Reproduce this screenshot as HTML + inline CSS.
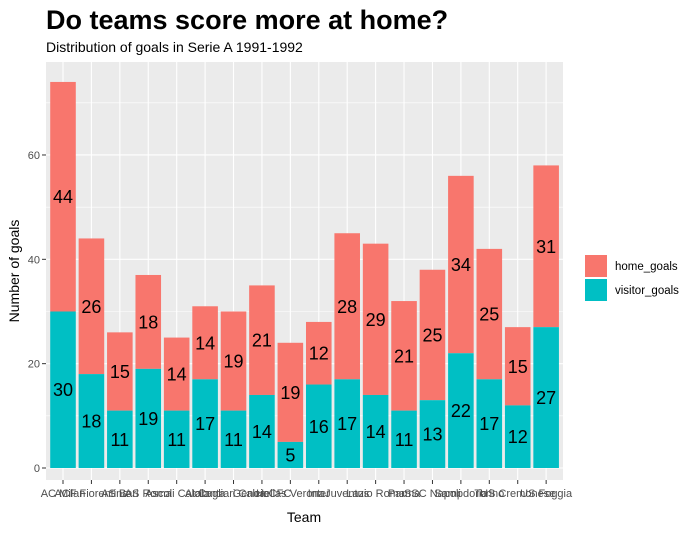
<!DOCTYPE html>
<html><head><meta charset="utf-8"><style>
body{margin:0;background:#fff;font-family:"Liberation Sans",Arial,sans-serif}
svg text{font-family:"Liberation Sans",Arial,sans-serif}
</style></head><body>
<svg id="chart" width="700" height="532" xmlns="http://www.w3.org/2000/svg">
<text x="46" y="29" font-size="27" font-weight="bold" fill="#000">Do teams score more at home?</text>
<text x="46" y="52" font-size="14" fill="#000">Distribution of goals in Serie A 1991-1992</text>
<rect x="46" y="62" width="517" height="418" fill="#EBEBEB"/>
<g id="grid"></g>
<g id="bars"></g>
<g id="labels"></g>
<g id="axes"></g>
<text x="304" y="522" font-size="14" text-anchor="middle" fill="#000">Team</text>
<text transform="translate(19,271) rotate(-90)" font-size="14" text-anchor="middle" fill="#000">Number of goals</text>
<g>
<rect x="585" y="255" width="22" height="22" fill="#F8766D"/>
<rect x="585" y="279" width="22" height="22" fill="#00BFC4"/>
<text x="615" y="270" font-size="11.5" fill="#000">home_goals</text>
<text x="615" y="294" font-size="11.5" fill="#000">visitor_goals</text>
</g>
</svg>
<script>
const teams=["AC Milan","ACF Fiorentina","AS Bari","AS Roma","Ascoli Calcio","Atalanta","Cagliari Calcio","Genoa CFC","Hellas Verona","Inter","Juventus","Lazio Roma","Parma","SSC Napoli","Sampdoria","Torino","US Cremonese","US Foggia"];
const homeGoals=[44,26,15,18,14,14,19,21,19,12,28,29,21,25,34,25,15,31];
const visitorGoals=[30,18,11,19,11,17,11,14,5,16,17,14,11,13,22,17,12,27];
const yTicks=[0,20,40,60];
const NS="http://www.w3.org/2000/svg";
const step=28.42, x0=63, y0=468, ppu=5.217;
const xs=i=>x0+i*step;
const ys=v=>y0-v*ppu;
function mk(tag,attrs,parent){const e=document.createElementNS(NS,tag);for(const k in attrs)e.setAttribute(k,attrs[k]);parent.appendChild(e);return e;}
const grid=document.getElementById('grid'),bars=document.getElementById('bars'),labels=document.getElementById('labels'),axes=document.getElementById('axes');
for(let v=10;v<80;v+=20){if(ys(v)>62){const l=mk('line',{x1:46,x2:563,y1:ys(v),y2:ys(v),stroke:'#fff','stroke-width':0.6},grid);

}}
yTicks.forEach(v=>{const l=mk('line',{x1:46,x2:563,y1:ys(v),y2:ys(v),stroke:'#fff','stroke-width':1.1},grid);


const t=mk('line',{x1:42,x2:46,y1:ys(v),y2:ys(v),stroke:'#333','stroke-width':1},axes);


const tx=mk('text',{x:40,y:ys(v)+4,'font-size':11,'text-anchor':'end',fill:'#4D4D4D'},axes);tx.textContent=v;

});
const bw=step*0.9;
teams.forEach((t,i)=>{const x=xs(i);
const g=mk('line',{x1:x,x2:x,y1:62,y2:480,stroke:'#fff','stroke-width':1.1},grid);


const tot=homeGoals[i]+visitorGoals[i];
const h=mk('rect',{x:x-bw/2,y:ys(tot),width:bw,height:ys(visitorGoals[i])-ys(tot),fill:'#F8766D'},bars);


const v=mk('rect',{x:x-bw/2,y:ys(visitorGoals[i]),width:bw,height:ys(0)-ys(visitorGoals[i]),fill:'#00BFC4'},bars);


const lh=mk('text',{x:x,y:ys(visitorGoals[i]+homeGoals[i]/2)+6.5,'font-size':18,'text-anchor':'middle',fill:'#000'},labels);lh.textContent=homeGoals[i];


const lv=mk('text',{x:x,y:ys(visitorGoals[i]/2)+6.5,'font-size':18,'text-anchor':'middle',fill:'#000'},labels);lv.textContent=visitorGoals[i];


const tk=mk('line',{x1:x,x2:x,y1:480,y2:484,stroke:'#333','stroke-width':1},axes);


const tl=mk('text',{x:x,y:497,'font-size':11,'text-anchor':'middle',fill:'#4D4D4D'},axes);tl.textContent=t;


});
</script>
</body></html>
